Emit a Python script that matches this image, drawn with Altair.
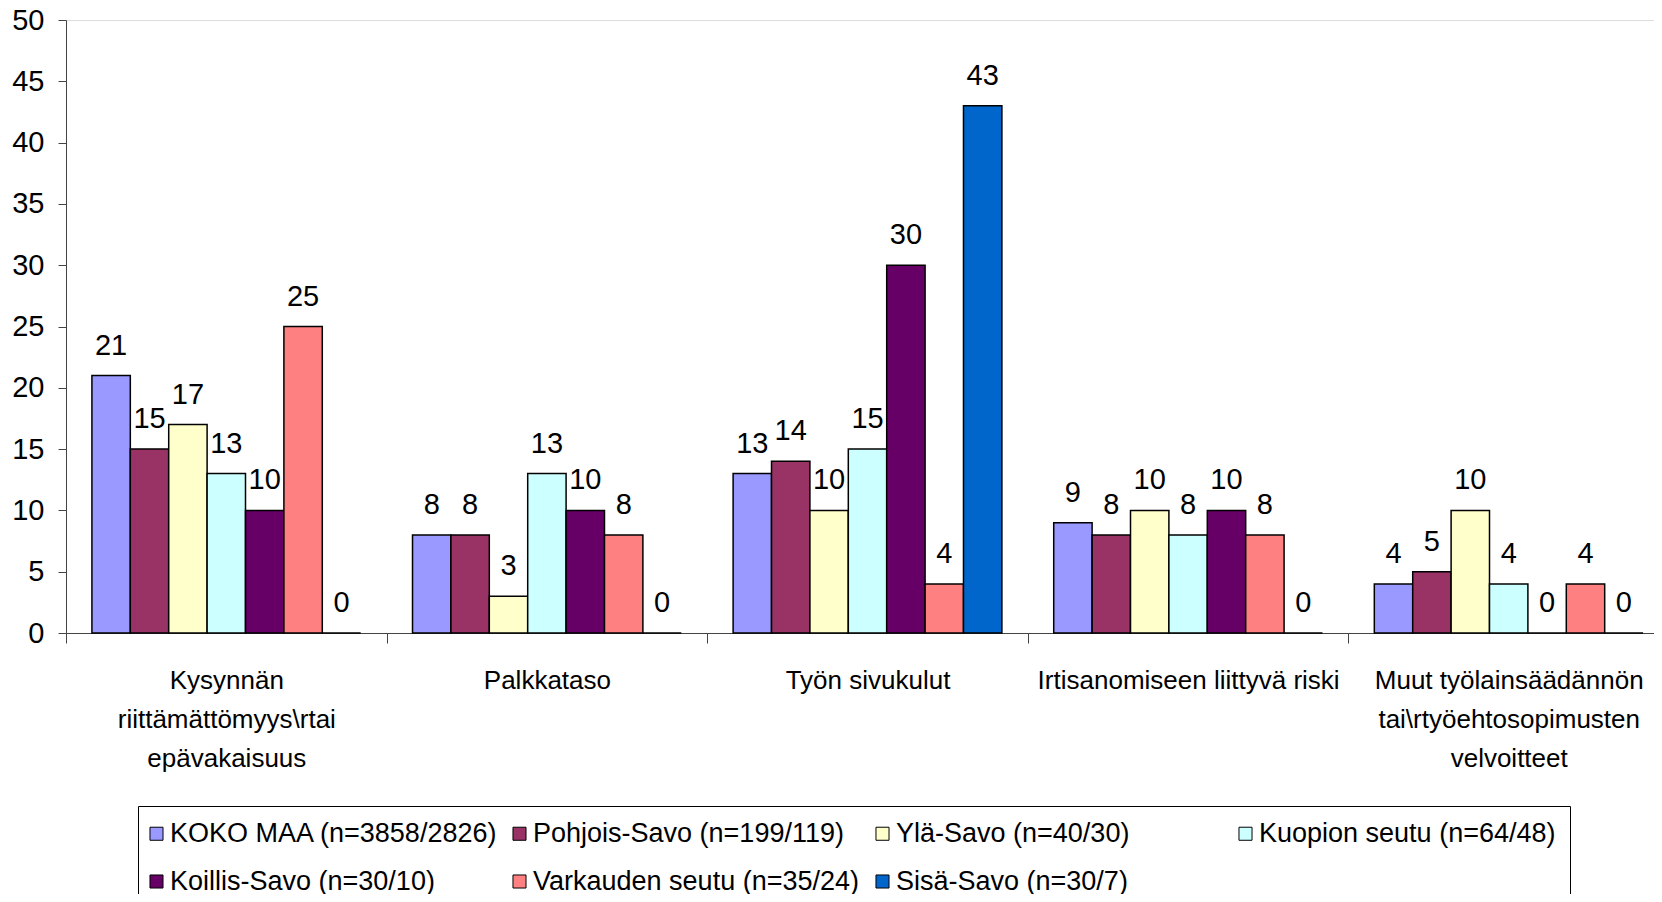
import altair as alt
import pandas as pd

categories = [
    "Kysynnän|riittämättömyys\\rtai|epävakaisuus",
    "Palkkataso",
    "Työn sivukulut",
    "Irtisanomiseen liittyvä riski",
    "Muut työlainsäädännön|tai\\rtyöehtosopimusten|velvoitteet",
]
series = [
    "KOKO MAA (n=3858/2826)",
    "Pohjois-Savo (n=199/119)",
    "Ylä-Savo (n=40/30)",
    "Kuopion seutu (n=64/48)",
    "Koillis-Savo (n=30/10)",
    "Varkauden seutu (n=35/24)",
    "Sisä-Savo (n=30/7)",
]
colors = ["#9999FF", "#993366", "#FFFFCC", "#CCFFFF", "#660066", "#FF8080", "#0066CC"]

koko_maa = [21, 8, 13, 9, 4]
pohjois_savo = [15, 8, 14, 8, 5]
yla_savo = [17, 3, 10, 10, 10]
kuopion_seutu = [13, 13, 15, 8, 4]
koillis_savo = [10, 10, 30, 10, 0]
varkauden_seutu = [25, 8, 4, 8, 4]
sisa_savo = [0, 0, 43, 0, 0]

values = [koko_maa, pohjois_savo, yla_savo, kuopion_seutu, koillis_savo, varkauden_seutu, sisa_savo]

rows = []
for s, vals in zip(series, values):
    for c, v in zip(categories, vals):
        rows.append({"cat": c, "series": s, "value": v})
df = pd.DataFrame(rows)

FONT = "Liberation Sans, Arial, sans-serif"
FS_NUM = 29
FS_CAT = 26
FS_LEG = 27

x = alt.X("cat:N", sort=categories, title=None,
          scale=alt.Scale(range=[0, 1603], paddingInner=0, paddingOuter=0),
          axis=alt.Axis(labelExpr="split(datum.label, '|')", labelAngle=0,
                        labelFontSize=FS_CAT, labelFont=FONT, labelColor="black",
                        labelLimit=500, labelOverlap=False, labelPadding=24,
                        labelLineHeight=39, labelBaseline="top",
                        tickBand="extent", tickSize=10, tickColor="#444444",
                        domainColor="#444444", labelBound=False))
xo = alt.XOffset("series:N", sort=series,
                 scale=alt.Scale(paddingInner=0, paddingOuter=0.675))
y = alt.Y("value:Q", title=None,
          scale=alt.Scale(domain=[0, 50], nice=False),
          axis=alt.Axis(values=list(range(0, 51, 5)), grid=False, tickSize=8,
                        labelPadding=14, labelFontSize=FS_NUM, labelFont=FONT,
                        labelColor="black", tickColor="#444444", domainColor="#444444"))

bars = alt.Chart(df).mark_bar(stroke="black", strokeWidth=1.5).encode(
    x=x, xOffset=xo, y=y,
    color=alt.Color("series:N", sort=series,
                    scale=alt.Scale(domain=series, range=colors),
                    legend=alt.Legend(title=None, orient="none", legendX=72, legendY=786,
                                      direction="horizontal", columns=4, gridAlign="all",
                                      columnPadding=12, rowPadding=20, padding=14,
                                      symbolType="square", symbolSize=170, symbolOffset=-9,
                                      symbolStrokeColor="black", symbolStrokeWidth=1,
                                      labelFontSize=FS_LEG, labelFont=FONT, labelColor="black",
                                      labelLimit=500, labelOffset=0,
                                      strokeColor="black", fillColor="white")),
)

labels = alt.Chart(df).mark_text(baseline="middle", dy=-30, fontSize=FS_NUM, font=FONT,
                                 color="black").encode(
    x=alt.X("cat:N", sort=categories), xOffset=xo, y="value:Q", text="value:Q"
)

chart = alt.layer(bars, labels).properties(
    width=1588, height=613,
    autosize=alt.AutoSizeParams(type="none"),
    padding={"left": 58, "top": 12, "right": 0, "bottom": 261},
).configure_view(stroke=None).configure(background="white")

chart.save("out.html", embed_options={"renderer": "svg", "actions": False})
